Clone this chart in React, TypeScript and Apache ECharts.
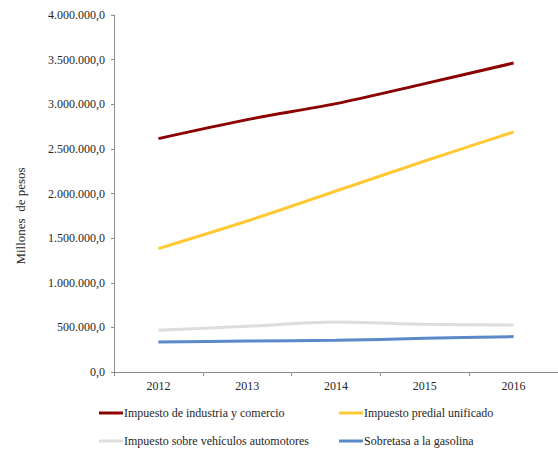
import React, { useEffect, useRef } from "react";
import * as echarts from "echarts";

const years = ["2012", "2013", "2014", "2015", "2016"];
const industriaComercio = [2615000, 2828000, 3007000, 3231000, 3462000];
const predialUnificado = [1383000, 1692000, 2028000, 2364000, 2689000];
const vehiculosAutomotores = [467000, 512000, 560000, 534000, 527000];
const sobretasaGasolina = [336000, 347000, 355000, 377000, 397000];

const seriesNames = [
  "Impuesto de industria y comercio",
  "Impuesto predial unificado",
  "Impuesto sobre vehículos automotores",
  "Sobretasa a la gasolina",
];
const colors = ["#8B0000", "#FFC936", "#DDDDDD", "#5B88C8"];
const yTitle = "Millones  de pesos";

const FONT = "Liberation Serif";
const TEXT = "#262626";

function fmt(v: number): string {
  const s = Math.round(v).toString();
  const withDots = s.replace(/\B(?=(\d{3})+(?!\d))/g, ".");
  return withDots + ",0";
}

export default function App() {
  const ref = useRef<HTMLDivElement>(null);
  useEffect(() => {
    if (!ref.current) return;
    const chart = echarts.init(ref.current, undefined, { renderer: "svg" });
    const dataSets = [industriaComercio, predialUnificado, vehiculosAutomotores, sobretasaGasolina];
    const legendCommon = {
      orient: "vertical" as const,
      top: 407,
      padding: 0,
      itemGap: 16,
      itemWidth: 24,
      itemHeight: 3,
      icon: "rect",
      textStyle: { fontFamily: FONT, fontSize: 12, color: TEXT, padding: [0, 0, 0, -4] },
    };
    chart.setOption({
      animation: false,
      backgroundColor: "#ffffff",
      textStyle: { fontFamily: FONT },
      grid: { left: 114, top: 15, bottom: 82, right: 0, containLabel: false },
      legend: [
        { ...legendCommon, left: 99, data: [seriesNames[0], seriesNames[2]] },
        { ...legendCommon, left: 339, data: [seriesNames[1], seriesNames[3]] },
      ],
      graphic: [
        {
          type: "text",
          x: 20,
          y: 216,
          rotation: Math.PI / 2,
          style: {
            text: yTitle,
            fontFamily: FONT,
            fontSize: 13,
            fill: TEXT,
            align: "center",
            verticalAlign: "middle",
          },
        },
      ],
      xAxis: {
        type: "category",
        data: years,
        boundaryGap: true,
        axisLine: { lineStyle: { color: "#8c8c8c", width: 1 } },
        axisTick: { show: true, length: 4, lineStyle: { color: "#8c8c8c" } },
        axisLabel: { fontFamily: FONT, fontSize: 12, color: TEXT, margin: 8 },
        splitLine: { show: false },
      },
      yAxis: {
        type: "value",
        min: 0,
        max: 4000000,
        interval: 500000,
        axisLine: { show: true, lineStyle: { color: "#8c8c8c", width: 1 } },
        axisTick: { show: true, length: 3, lineStyle: { color: "#8c8c8c" } },
        axisLabel: { fontFamily: FONT, fontSize: 12, color: TEXT, margin: 9, formatter: (v: number) => fmt(v) },
        splitLine: { show: false },
      },
      series: dataSets.map((d, i) => ({
        name: seriesNames[i],
        type: "line",
        data: d,
        smooth: 0.3,
        symbol: "none",
        lineStyle: { color: colors[i], width: 3 },
        itemStyle: { color: colors[i] },
        z: 10 - i,
      })),
    });
    return () => chart.dispose();
  }, []);
  return (
    <div
      ref={ref}
      style={{ position: "fixed", left: 0, top: 0, width: 558, height: 454 }}
    />
  );
}
